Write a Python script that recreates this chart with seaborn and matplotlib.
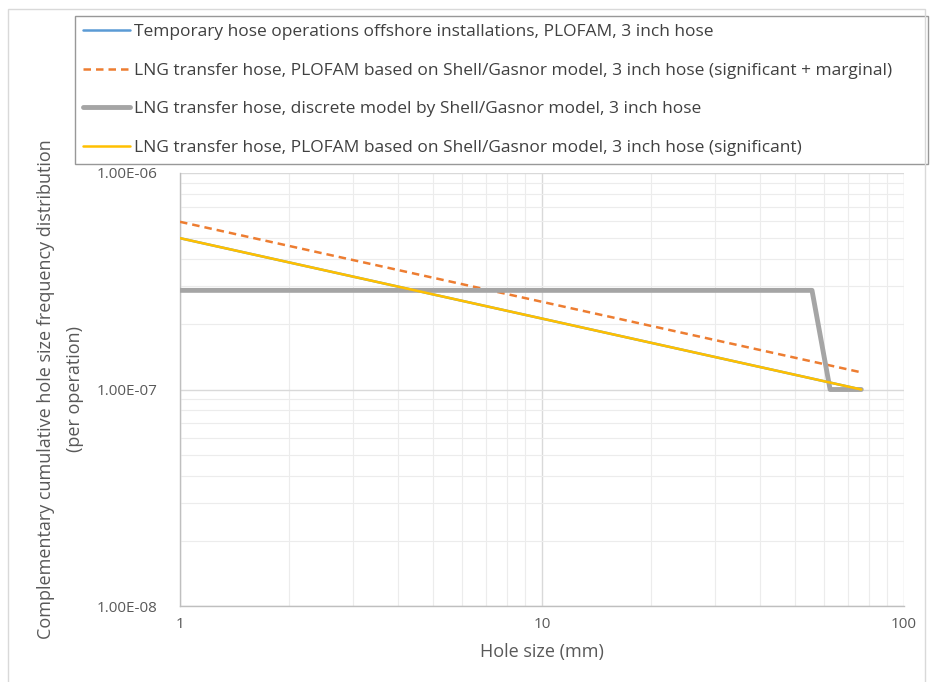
import numpy as np
import pandas as pd
import matplotlib
matplotlib.use("Agg")
import matplotlib.pyplot as plt
import seaborn as sns
from matplotlib.ticker import LogLocator, FixedLocator, NullFormatter

# series (hole size in mm, frequency per operation)
temp_x = [1, 76.2]
temp_y = [5.0e-7, 1.0e-7]
sig_marg_x = [1, 76.2]
sig_marg_y = [5.95e-7, 1.2e-7]
discrete_x = [1, 55.7, 62.5, 76.2]
discrete_y = [2.87e-7, 2.87e-7, 1.0e-7, 1.0e-7]
sig_x = [1, 76.2]
sig_y = [5.0e-7, 1.0e-7]

labels = [
    "Temporary hose operations offshore installations, PLOFAM, 3 inch hose",
    "LNG transfer hose, PLOFAM based on Shell/Gasnor model, 3 inch hose (significant + marginal)",
    "LNG transfer hose, discrete model by Shell/Gasnor model, 3 inch hose",
    "LNG transfer hose, PLOFAM based on Shell/Gasnor model, 3 inch hose (significant)",
]
colors = ["#5b9bd5", "#ed7d31", "#a5a5a5", "#ffc000"]

frames = []
for lab, xs, ys in zip(labels, [temp_x, sig_marg_x, discrete_x, sig_x],
                       [temp_y, sig_marg_y, discrete_y, sig_y]):
    frames.append(pd.DataFrame({"x": xs, "y": ys, "series": lab}))
df = pd.concat(frames, ignore_index=True)

sns.set_style("white")
plt.rcParams["font.family"] = ["Open Sans", "DejaVu Sans"]

fig = plt.figure(figsize=(9.35, 6.82), dpi=100)
ax = fig.add_axes([180 / 935, 1 - 606 / 682, (904 - 180) / 935, (606 - 173) / 682])

styles = {labels[0]: (1.8, "-"), labels[1]: (1.8, (0, (3, 2))),
          labels[2]: (3.5, "-"), labels[3]: (1.8, "-")}
for lab, col in zip(labels, colors):
    sub = df[df["series"] == lab]
    lw, ls = styles[lab]
    sns.lineplot(data=sub, x="x", y="y", ax=ax, color=col, linewidth=lw,
                 linestyle=ls, label=lab, estimator=None, sort=False,
                 zorder=3 if lab != labels[0] else 2)

ax.set_xscale("log")
ax.set_yscale("log")
ax.set_xlim(1, 100)
ax.set_ylim(1e-8, 1e-6)

ax.xaxis.set_major_locator(FixedLocator([1, 10, 100]))
ax.set_xticklabels(["1", "10", "100"])
ax.xaxis.set_minor_locator(LogLocator(base=10, subs=np.arange(2, 10)))
ax.xaxis.set_minor_formatter(NullFormatter())
ax.yaxis.set_major_locator(FixedLocator([1e-8, 1e-7, 1e-6]))
ax.set_yticklabels(["1.00E-08", "1.00E-07", "1.00E-06"])
ax.yaxis.set_minor_locator(LogLocator(base=10, subs=np.arange(2, 10)))
ax.yaxis.set_minor_formatter(NullFormatter())

ax.grid(True, which="major", color="#d9d9d9", linewidth=1.0)
ax.grid(True, which="minor", color="#ececec", linewidth=0.8)
ax.set_axisbelow(True)

for side in ["top", "right"]:
    ax.spines[side].set_visible(False)
for side in ["left", "bottom"]:
    ax.spines[side].set_color("#bfbfbf")
    ax.spines[side].set_linewidth(1.0)

ax.tick_params(axis="both", which="major", direction="out", length=5,
               color="#bfbfbf", labelsize=11, labelcolor="#595959")
ax.tick_params(axis="both", which="minor", length=0)
ax.tick_params(axis="x", pad=3)
ax.tick_params(axis="y", pad=11)

ax.set_xlabel("Hole size (mm)", fontsize=13, color="#595959", labelpad=8)
ax.set_ylabel("Complementary cumulative hole size frequency distribution\n(per operation)",
              fontsize=13, color="#595959", labelpad=9, linespacing=1.85)

leg = ax.legend(loc="upper left",
                bbox_to_anchor=(75 / 935, 1 - 157 / 682, (928 - 75) / 935, (157 - 16) / 682),
                bbox_transform=fig.transFigure, mode="expand", frameon=True,
                fancybox=False, fontsize=12.5, handlelength=2.7, handletextpad=0.25,
                labelspacing=1.3, borderpad=0.45, borderaxespad=0)
leg.get_frame().set_edgecolor("#7f7f7f")
leg.get_frame().set_linewidth(1.0)
for t in leg.get_texts():
    t.set_color("#404040")

# outer chart border
fig.patches.append(plt.Rectangle((8 / 935, -0.01), (925 - 8) / 935, 1 - 9 / 682 + 0.01,
                                 transform=fig.transFigure, fill=False,
                                 edgecolor="#d9d9d9", linewidth=1.0))

fig.savefig("out.png", dpi=100)
